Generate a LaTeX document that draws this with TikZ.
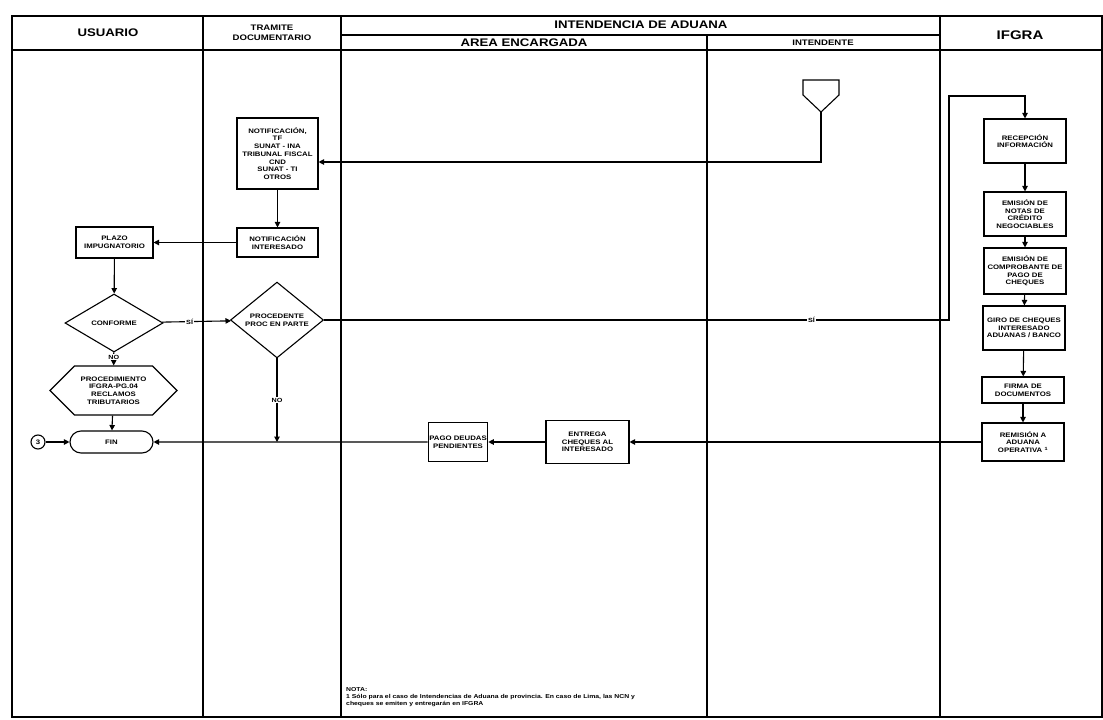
\documentclass[tikz,border=0pt]{standalone}
\usepackage{fontspec}
\setmainfont{Liberation Sans}[FakeStretch=1.2]
\usetikzlibrary{shapes.geometric, shapes.misc, shapes.symbols, arrows.meta}

\begin{document}
\begin{tikzpicture}[x = 1pt, y = -1pt,
    linea/.style = {line width = 1.1pt},
    flecha/.style = {linea, -{Triangle[length = 5.5pt, width = 5.5pt]}},
    caja/.style = {draw, linea, rectangle, align = center, inner sep = 1pt,
        font = \fontsize{6.5}{7.7}\selectfont\bfseries},
    decision/.style = {caja, diamond, inner sep = 0pt},
    titulo/.style = {font = \fontsize{11}{13}\selectfont\bfseries, align = center},
    subtitulo/.style = {font = \fontsize{8}{9.5}\selectfont\bfseries, align = center},
    etiqueta/.style = {fill = white, inner sep = 1pt, font = \fontsize{6}{6.5}\selectfont\bfseries}]
    \useasboundingbox (0, 0) rectangle (1103, 720);
    % marco y carriles
    \draw [linea] (12, 16) rectangle (1102, 717);
    \draw [linea] (12, 50) -- (1102, 50);
    \draw [linea] (341, 35) -- (940, 35);
    \draw [linea] (203, 16) -- (203, 717);
    \draw [linea] (341, 16) -- (341, 717);
    \draw [linea] (707, 35) -- (707, 717);
    \draw [linea] (940, 16) -- (940, 717);
    \node [titulo] (usuario) at (108, 33) {USUARIO};
    \node [subtitulo] (tramite) at (272, 33) {TRAMITE\\DOCUMENTARIO};
    \node [titulo] (intendencia) at (641, 25) {INTENDENCIA DE ADUANA};
    \node [titulo] (area) at (524, 43) {AREA ENCARGADA};
    \node [subtitulo] (intendente) at (823, 43) {INTENDENTE};
    \node [titulo, font = \fontsize{12.5}{14}\selectfont\bfseries] (ifgra) at (1020, 35) {IFGRA};
    % conector de otra pagina
    \coordinate (conector) at (821, 112);
    \draw [linea] (803, 80) -- (839, 80) -- (839, 95) -- (conector) -- (803, 95) -- cycle;
    % tramite documentario
    \node [caja, minimum width = 81pt, minimum height = 71pt] (notif) at (277.5, 153.5)
        {NOTIFICACIÓN,\\TF\\SUNAT - INA\\TRIBUNAL FISCAL\\CND\\SUNAT - TI\\OTROS};
    \node [caja, minimum width = 81pt, minimum height = 29pt] (notint) at (277.5, 242.5)
        {NOTIFICACIÓN\\INTERESADO};
    \node [decision, minimum width = 93pt, minimum height = 66pt] (proc) at (277, 320)
        {PROCEDENTE\\PROC EN PARTE};
    % usuario
    \node [caja, minimum width = 77pt, minimum height = 31pt] (plazo) at (114.5, 242.5)
        {PLAZO\\IMPUGNATORIO};
    \node [decision, minimum width = 98pt, minimum height = 58pt] (conf) at (114, 323) {CONFORME};
    \node [caja, signal, signal to = west and east, minimum width = 127pt, minimum height = 49pt]
        (reclamo) at (113.5, 390.5) {PROCEDIMIENTO\\IFGRA-PG.04\\RECLAMOS\\TRIBUTARIOS};
    \node [caja, rounded rectangle, minimum width = 85pt, minimum height = 22pt] (fin) at (111.5, 442) {FIN};
    \node [caja, circle, minimum size = 14pt, inner sep = 0pt] (tres) at (38, 442) {3};
    % area encargada
    \node [caja, minimum width = 57pt, minimum height = 39pt] (pago) at (458, 442) {PAGO DEUDAS\\PENDIENTES};
    \node [caja, minimum width = 83pt, minimum height = 43pt] (entrega) at (587.5, 442)
        {ENTREGA\\CHEQUES AL\\INTERESADO};
    % ifgra
    \node [caja, minimum width = 82pt, minimum height = 44pt] (recep) at (1025, 141) {RECEPCIÓN\\INFORMACIÓN};
    \node [caja, minimum width = 82pt, minimum height = 44pt] (notas) at (1025, 214)
        {EMISIÓN DE\\NOTAS DE\\CRÉDITO\\NEGOCIABLES};
    \node [caja, minimum width = 82pt, minimum height = 46pt] (compr) at (1025, 271)
        {EMISIÓN DE\\COMPROBANTE DE\\PAGO DE\\CHEQUES};
    \node [caja, minimum width = 82pt, minimum height = 44pt] (giro) at (1024, 328)
        {GIRO DE CHEQUES\\INTERESADO\\ADUANAS / BANCO};
    \node [caja, minimum width = 82pt, minimum height = 26pt] (firma) at (1023, 390) {FIRMA DE\\DOCUMENTOS};
    \node [caja, minimum width = 82pt, minimum height = 38pt] (remis) at (1023, 442)
        {REMISIÓN A\\ADUANA\\OPERATIVA \textsuperscript{1}};
    % flujo
    \draw [flecha] (conector) |- ([yshift = -8.5pt] notif.east);
    \draw [flecha] (notif) -- (notint);
    \draw [flecha] (notint) -- (plazo);
    \draw [flecha] (plazo) -- (conf);
    \draw [flecha] (conf) -- node [etiqueta, pos = 0.4] {SÍ} (proc);
    \draw [flecha] (conf) -- node [etiqueta, pos = 0.35] {NO} (reclamo);
    \draw [flecha] (reclamo) -- (fin);
    \draw [flecha] (tres) -- (fin);
    \coordinate (sube) at (949, 96);
    \draw [flecha] (proc.east) -- node [etiqueta, pos = 0.78] {SÍ} (proc.east -| sube) -- (sube) -| (recep.north);
    \draw [flecha] (recep) -- (notas);
    \draw [flecha] (notas) -- (compr);
    \draw [flecha] (compr) -- (giro);
    \draw [flecha] (giro) -- (firma);
    \draw [flecha] (firma) -- (remis);
    \draw [flecha] (remis) -- (entrega);
    \draw [flecha] (entrega) -- (pago);
    \draw [flecha] (pago) -- (fin);
    \draw [flecha] (proc.south) -- node [etiqueta] {NO} (proc.south |- fin.east);
    % nota
    \node [anchor = north west, align = left, inner sep = 0pt, font = \fontsize{5.7}{7.3}\selectfont\bfseries]
        (nota) at (346, 687) {NOTA:\\1 Sólo para el caso de Intendencias de Aduana de provincia. En caso de Lima, las NCN y\\cheques se emiten y entregarán en IFGRA};
\end{tikzpicture}
\end{document}
